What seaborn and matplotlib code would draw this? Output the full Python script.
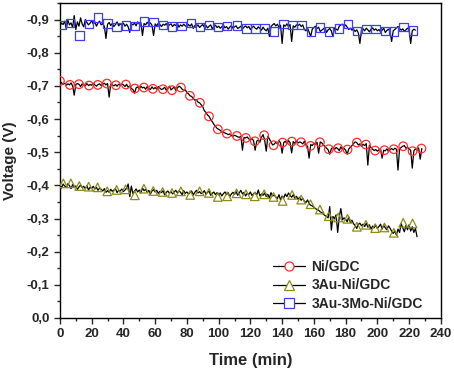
"""Voltage vs time for the three anode cells (Ni/GDC, 3Au-Ni/GDC, 3Au-3Mo-Ni/GDC)"""

import numpy as np
import pandas as pd
import matplotlib
matplotlib.use("Agg")
import matplotlib.pyplot as plt
from matplotlib.lines import Line2D
from matplotlib.ticker import MultipleLocator, FuncFormatter
import seaborn as sns

# ---- raw traces, |voltage| in mV, one sample per minute starting at t = 0 ----
ni_line = [
    714, 709, 705, 708, 702, 706, 703, 709, 700, 672,
    704, 707, 705, 698, 706, 703, 700, 707, 701, 704,
    702, 708, 703, 699, 704, 706, 701, 705, 708, 703,
    707, 666, 705, 703, 700, 704, 699, 705, 702, 706,
    703, 698, 705, 696, 700, 692, 689, 678, 694, 697,
    691, 699, 694, 696, 690, 698, 692, 689, 697, 691,
    695, 690, 698, 693, 689, 691, 696, 687, 693, 699,
    688, 692, 697, 686, 694, 699, 696, 690, 686, 688,
    680, 676, 670, 668, 662, 657, 658, 651, 649, 643,
    637, 625, 620, 612, 608, 598, 592, 584, 578, 572,
    569, 566, 561, 560, 558, 556, 553, 555, 550, 548,
    551, 549, 546, 545, 548, 506, 544, 543, 546, 540,
    538, 541, 535, 506, 533, 537, 530, 545, 553, 536,
    503, 548, 540, 530, 522, 524, 530, 526, 535, 528,
    497, 529, 533, 526, 535, 529, 498, 532, 527, 534,
    528, 531, 529, 525, 533, 522, 518, 482, 523, 520,
    527, 524, 530, 497, 531, 528, 522, 517, 512, 507,
    494, 510, 515, 508, 514, 511, 505, 516, 509, 512,
    506, 494, 510, 515, 520, 526, 531, 529, 522, 525,
    518, 524, 520, 526, 461, 521, 514, 509, 505, 508,
    503, 507, 510, 482, 506, 504, 510, 502, 508, 511,
    507, 512, 509, 446, 510, 514, 518, 520, 512, 515,
    509, 506, 452, 504, 510, 507, 513, 479, 511,
]

au_line = [
    400, 392, 404, 398, 395, 405, 399, 390, 402, 396,
    398, 388, 395, 401, 393, 397, 390, 399, 386, 394,
    391, 397, 389, 394, 385, 392, 388, 383, 390, 379,
    384, 379, 388, 382, 386, 390, 378, 385, 383, 389,
    381, 386, 392, 404, 366, 398, 375, 383, 389, 380,
    386, 377, 392, 384, 388, 379, 385, 374, 383, 387,
    380, 385, 376, 382, 378, 384, 371, 379, 383, 376,
    381, 374, 380, 385, 377, 383, 379, 372, 384, 376,
    380, 374, 378, 383, 371, 379, 385, 377, 381, 375,
    378, 384, 373, 379, 382, 370, 376, 380, 372, 378,
    371, 377, 368, 375, 380, 372, 378, 366, 374, 379,
    373, 381, 370, 377, 385, 374, 379, 368, 376, 372,
    380, 369, 375, 378, 371, 386, 368, 374, 370, 377,
    366, 373, 362, 378, 368, 371, 365, 360, 372, 356,
    368, 362, 374, 366, 377, 370, 364, 372, 361, 367,
    358, 364, 355, 361, 352, 348, 356, 345, 340, 338,
    334, 330, 327, 325, 320, 318, 313, 309, 306, 302,
    336, 265, 306, 300, 311, 258, 305, 330, 296, 302,
    298, 290, 305, 288, 295, 284, 279, 270, 282, 286,
    278, 283, 276, 286, 274, 281, 268, 277, 272, 280,
    270, 276, 283, 268, 279, 272, 266, 278, 271, 262,
    255, 262, 250, 268, 258, 284, 272, 260, 279, 266,
    281, 262, 275, 258, 270, 245,
]

aumo_line = [
    880, 890, 885, 895, 872, 898, 884, 890, 876, 912,
    870, 893, 880, 905, 887, 878, 900, 891, 884, 889,
    897, 886, 893, 880, 890, 895, 884, 888, 879, 843,
    886, 891, 882, 888, 879, 885, 893, 881, 887, 884,
    889, 880, 886, 878, 861, 887, 884, 890, 881, 893,
    887, 891, 852, 888, 884, 892, 886, 890, 883, 852,
    887, 881, 889, 885, 879, 886, 883, 888, 880, 884,
    887, 879, 885, 882, 889, 877, 884, 880, 886, 881,
    878, 885, 880, 887, 873, 882, 879, 884, 876, 881,
    885, 877, 882, 875, 880, 884, 872, 879, 883, 876,
    880, 874, 878, 883, 875, 879, 871, 877, 882, 874,
    878, 881, 873, 876, 880, 872, 877, 881, 875, 879,
    870, 876, 880, 874, 871, 878, 873, 868, 877, 870,
    866, 874, 849, 879, 884, 888, 881, 886, 877, 883,
    828, 884, 880, 887, 879, 885, 834, 881, 877, 884,
    882, 886, 879, 884, 870, 866, 874, 862, 849, 871,
    876, 880, 873, 877, 864, 868, 872, 876, 861, 869,
    873, 866, 849, 875, 871, 868, 880, 884, 886, 879,
    884, 877, 870, 874, 868, 871, 864, 869, 860, 828,
    868, 872, 866, 874, 869, 863, 871, 875, 868, 872,
    866, 870, 863, 868, 874, 861, 867, 871, 864, 834,
    866, 870, 875, 879, 873, 868, 872, 865, 869, 874,
    870, 828, 866, 871, 868,
]

# ---- symbols (every ~6 min) ----
ni_sym_t = [0, 6.3, 12, 18.3, 23.9, 29.6, 35.3, 41.6, 47.2, 52.9, 58.6, 64.9, 70.6,
            76.2, 81.9, 88.2, 93.9, 99.5, 105.2, 111.5, 117.2, 122.8, 128.7, 134.6,
            140.3, 146.1, 152, 157.9, 163.8, 169.4, 175.3, 181.2, 187.1, 192.8,
            198.6, 204.5, 210.4, 216.3, 222.2, 227.8]
ni_sym_v = [715, 703, 705, 701, 703, 707, 702, 704, 692, 695, 691, 690, 687, 695,
            670, 649, 608, 569, 556, 549, 543, 533, 551, 521, 529, 532, 530, 519,
            530, 509, 512, 508, 529, 523, 505, 506, 509, 518, 503, 511]

au_sym_t = [2.1, 6.9, 12.2, 18.1, 23.7, 29.8, 35.7, 41.4, 47.2, 52.9, 58.8, 64.7,
            70.6, 76.2, 82.1, 88, 93.9, 99.5, 105.4, 111.3, 117.2, 122.8, 128.7,
            134.6, 140.3, 146.3, 152, 157.9, 163.8, 169.4, 175.3, 181.2, 187.1,
            192.8, 198.6, 204.5, 210.4, 216.3, 222.2]
au_sym_v = [406, 406, 398, 396, 394, 382, 386, 388, 370, 390, 383, 380, 377, 382,
            371, 382, 377, 365, 367, 376, 373, 367, 373, 365, 353, 371, 357, 343,
            327, 307, 303, 299, 275, 281, 271, 273, 257, 287, 285]

aumo_sym_t = [1.1, 6.3, 12.2, 18.3, 24.1, 29.8, 35.7, 41.6, 47.4, 53.1, 59, 64.9,
              70.7, 76.6, 82.5, 88.2, 94, 99.7, 105.2, 111.5, 117.4, 123.3, 129,
              134.9, 140.7, 146.4, 152.2, 158.1, 164, 169.6, 175.7, 181.6, 187.2,
              193.1, 199, 204.7, 210.6, 216.5, 222.4]
aumo_sym_v = [883, 889, 852, 886, 906, 888, 878, 882, 880, 894, 893, 883, 879, 880,
              889, 878, 883, 878, 880, 882, 873, 873, 873, 864, 886, 883, 884, 864,
              876, 864, 873, 886, 865, 871, 871, 865, 864, 878, 867]

labels = ["Ni/GDC", "3Au-Ni/GDC", "3Au-3Mo-Ni/GDC"]
colors = ["#ff2b2b", "#8c8c14", "#3d3dff"]
markers = ["o", "^", "s"]


def to_frame(vals, t=None):
    """ mV magnitudes -> negative volts """
    if t is None:
        t = np.arange(len(vals))
    return pd.DataFrame({"t": t, "v": -np.asarray(vals) / 1000.0})


sns.set_style("ticks")
plt.rcParams["font.family"] = ["Liberation Sans", "DejaVu Sans"]
plt.rcParams["font.weight"] = "bold"

fig = plt.figure(figsize=(4.54, 3.73), dpi=100)
ax = fig.add_axes([0.132, 0.1475, 0.839, 0.8445])

lines = [ni_line, au_line, aumo_line]
sym_t = [ni_sym_t, au_sym_t, aumo_sym_t]
sym_v = [ni_sym_v, au_sym_v, aumo_sym_v]

for i in range(3):
    sns.lineplot(data=to_frame(lines[i]), x="t", y="v", color="black", lw=0.9,
                 estimator=None, sort=False, ax=ax)
    sns.scatterplot(data=to_frame(sym_v[i], sym_t[i]), x="t", y="v", marker=markers[i],
                    s=38, facecolor="none", edgecolor=colors[i], linewidth=0.9,
                    zorder=3, ax=ax)

ax.set_xlim(0, 240)
ax.set_ylim(0, -0.95)
ax.xaxis.set_major_locator(MultipleLocator(20))
ax.xaxis.set_minor_locator(MultipleLocator(10))
ax.yaxis.set_major_locator(MultipleLocator(0.1))
ax.yaxis.set_minor_locator(MultipleLocator(0.05))
ax.yaxis.set_major_formatter(FuncFormatter(
    lambda v, p: "0,0" if abs(v) < 1e-9 else f"{v:.1f}".replace(".", ",")))

ax.tick_params(which="major", direction="out", length=4, width=1, labelsize=9.5)
ax.tick_params(which="minor", direction="out", length=2.5, width=1)
for s in ax.spines.values():
    s.set_linewidth(1)
    s.set_color("black")

ax.set_xlabel("Time (min)", fontsize=12, fontweight="bold", labelpad=9)
ax.set_ylabel("Voltage (V)", fontsize=11, fontweight="bold", labelpad=7)

handles = [Line2D([], [], color="black", lw=0.9, marker=markers[i], markersize=6.5,
                  markerfacecolor="white", markeredgecolor=colors[i], markeredgewidth=0.9)
           for i in range(3)]
ax.legend(handles, labels, loc="lower right", bbox_to_anchor=(0.975, -0.005),
          frameon=False, prop={"size": 10, "weight": "bold"}, borderaxespad=0.2,
          handlelength=2.3, handletextpad=0.45, labelspacing=0.35)

fig.savefig("out.png", dpi=100)
